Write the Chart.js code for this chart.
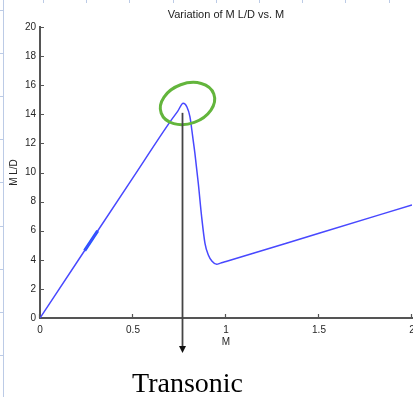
<!DOCTYPE html>
<html>
<head>
<meta charset="utf-8">
<script src="https://cdn.jsdelivr.net/npm/chart.js@4/dist/chart.umd.min.js"></script>
<style>
  html, body { margin: 0; padding: 0; background: #ffffff; }
  #wrap { width: 413px; height: 397px; }
</style>
</head>
<body>
<div id="wrap"><canvas id="c" width="413" height="397"></canvas></div>
<script>
// ---- data ----
const machValues = [0, 0.25, 0.5, 0.7, 0.74, 0.77, 0.79, 0.806, 0.821, 0.833, 0.851, 0.869, 0.887, 0.905, 0.925, 0.95, 0.97, 1.0, 1.5, 2.0];
const mLD        = [0, 4.83, 9.65, 13.5, 14.2, 14.76, 14.5, 13.84, 12.46, 11.3, 9.26, 6.96, 5.13, 4.33, 3.9, 3.69, 3.77, 3.88, 5.83, 7.77];
const markMach   = [0.24, 0.31];
const markLD     = [4.63, 5.98];
const xTickValues = [0, 0.5, 1, 1.5, 2];
const xTickLabels = ['0', '0.5', '1', '1.5', '2'];
const yTickValues = [0, 2, 4, 6, 8, 10, 12, 14, 16, 18, 20];
const yTickLabels = ['0', '2', '4', '6', '8', '10', '12', '14', '16', '18', '20'];
const chartTitle = 'Variation of M L/D vs. M';
const xTitle = 'M';
const yTitle = 'M L/D';
const noteText = 'Transonic';
// annotation anchors (data units)
const arrowMach = 0.763, arrowTop = 14.1, arrowBottom = -2.4;
const circleMach = 0.793, circleLD = 14.74;

const axisColor = '#555555';
const tickFont = { family: 'Liberation Sans, Arial, sans-serif', size: 10 };

const decorPlugin = {
  id: 'decor',
  beforeDraw(chart) {
    const ctx = chart.ctx;
    ctx.save();
    ctx.strokeStyle = '#bccbe6';
    ctx.lineWidth = 1;
    ctx.beginPath();
    ctx.moveTo(3.5, 0); ctx.lineTo(3.5, 397);
    for (let y = 10; y < 397; y += 43.1) { ctx.moveTo(0, Math.round(y) + 0.5); ctx.lineTo(3.5, Math.round(y) + 0.5); }
    for (let x = 43; x < 413; x += 43.2) { ctx.moveTo(Math.round(x) + 0.5, 0); ctx.lineTo(Math.round(x) + 0.5, 3); }
    ctx.stroke();
    ctx.restore();
  },
  afterDraw(chart) {
    const ctx = chart.ctx;
    const xs = chart.scales.x, ys = chart.scales.y;
    const area = chart.chartArea;
    ctx.save();
    // inward tick marks
    ctx.strokeStyle = axisColor;
    ctx.lineWidth = 1.2;
    ctx.beginPath();
    yTickValues.forEach(v => {
      const py = Math.round(ys.getPixelForValue(v)) + 0.5;
      ctx.moveTo(area.left, py); ctx.lineTo(area.left + 4, py);
    });
    xTickValues.forEach(v => {
      const px = Math.round(xs.getPixelForValue(v)) - 0.5;
      ctx.moveTo(px, area.bottom); ctx.lineTo(px, area.bottom - 4);
    });
    ctx.stroke();

    // green circle
    const cx = xs.getPixelForValue(circleMach), cy = ys.getPixelForValue(circleLD);
    ctx.strokeStyle = '#63b53c';
    ctx.lineWidth = 3;
    ctx.beginPath();
    ctx.ellipse(cx, cy, 28, 20, -0.35, 0, Math.PI * 2);
    ctx.stroke();

    // arrow
    const ax = Math.round(xs.getPixelForValue(arrowMach)) + 0.5;
    const ay0 = ys.getPixelForValue(arrowTop), ay1 = ys.getPixelForValue(arrowBottom);
    ctx.strokeStyle = '#444444';
    ctx.lineWidth = 1.8;
    ctx.beginPath();
    ctx.moveTo(ax, ay0); ctx.lineTo(ax, ay1 - 5);
    ctx.stroke();
    ctx.fillStyle = '#111111';
    ctx.beginPath();
    ctx.moveTo(ax - 3.5, ay1 - 7); ctx.lineTo(ax + 3.5, ay1 - 7); ctx.lineTo(ax, ay1); ctx.closePath();
    ctx.fill();

    // note text
    ctx.fillStyle = '#000000';
    ctx.font = '28px "Liberation Serif", "Times New Roman", serif';
    ctx.textAlign = 'center';
    ctx.textBaseline = 'alphabetic';
    ctx.fillText(noteText, ax + 5, 392);
    ctx.restore();
  }
};

new Chart(document.getElementById('c'), {
  type: 'scatter',
  data: {
    datasets: [
      {
        data: machValues.map((m, i) => ({ x: m, y: mLD[i] })),
        showLine: true,
        borderColor: '#4848ff',
        borderWidth: 1.5,
        pointRadius: 0,
        cubicInterpolationMode: 'monotone',
        fill: false
      },
      {
        data: markMach.map((m, i) => ({ x: m, y: markLD[i] })),
        showLine: true,
        borderColor: '#1560ff',
        borderWidth: 3.2,
        pointRadius: 0,
        fill: false
      }
    ]
  },
  options: {
    responsive: false,
    animation: false,
    layout: { padding: { left: 0, right: 1, top: 0, bottom: 0 } },
    plugins: {
      legend: { display: false },
      tooltip: { enabled: false },
      title: {
        display: true,
        text: chartTitle,
        fullSize: false,
        color: '#222222',
        font: { family: 'Liberation Sans, Arial, sans-serif', size: 11, weight: 'normal' },
        padding: { top: 8, bottom: 5.8 }
      }
    },
    scales: {
      x: {
        type: 'linear',
        min: 0, max: 2,
        grid: { display: false, drawTicks: false },
        border: { display: true, color: axisColor, width: 2 },
        ticks: {
          stepSize: 0.5,
          padding: 6,
          color: '#262626',
          font: tickFont,
          maxRotation: 0,
          callback: (v) => { const i = xTickValues.indexOf(v); return i >= 0 ? xTickLabels[i] : ''; }
        },
        title: { display: true, text: xTitle, color: '#262626', font: tickFont, padding: { top: 0, bottom: 49 } },
        afterFit(scale) { scale.height = 79; scale.paddingLeft = 0; scale.paddingRight = 0; }
      },
      y: {
        type: 'linear',
        min: 0, max: 20,
        grid: { display: false, drawTicks: false },
        border: { display: true, color: axisColor, width: 2 },
        ticks: {
          stepSize: 2,
          padding: 4,
          color: '#262626',
          font: tickFont,
          callback: (v) => { const i = yTickValues.indexOf(v); return i >= 0 ? yTickLabels[i] : ''; }
        },
        title: { display: true, text: yTitle, color: '#262626', font: tickFont, padding: { top: 8, bottom: 0 } },
        afterFit(scale) { scale.width = 40; scale.paddingTop = 0; scale.paddingBottom = 0; }
      }
    }
  },
  plugins: [decorPlugin]
});
</script>
</body>
</html>
